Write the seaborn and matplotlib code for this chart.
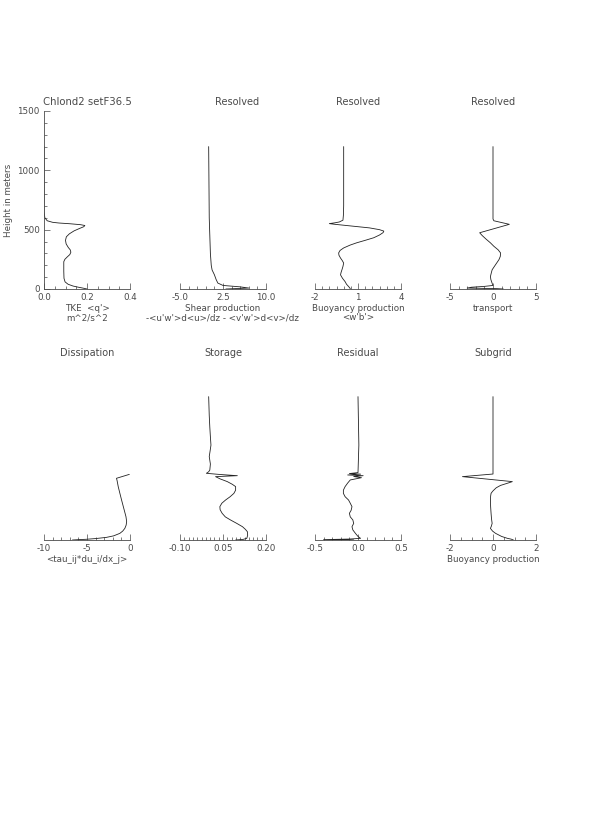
import numpy as np
import matplotlib
matplotlib.use('Agg')
import matplotlib.pyplot as plt
import seaborn as sns
from matplotlib.ticker import AutoMinorLocator

sns.set_style('white')
plt.rcParams['font.family'] = ['DejaVu Sans']

#%% profiles (height in m)
z_tke = [0, 8, 15, 25, 40, 60, 90, 150, 230, 250, 270, 290, 310, 330, 350, 380, 410,
         440, 465, 490, 510, 525, 535, 542, 550, 556, 562, 575, 600, 650, 1200]
tke = [0.20, 0.18, 0.16, 0.135, 0.112, 0.098, 0.093, 0.092, 0.092, 0.097, 0.108,
       0.12, 0.125, 0.122, 0.113, 0.103, 0.10, 0.104, 0.118, 0.14, 0.165, 0.185,
       0.19, 0.17, 0.12, 0.07, 0.04, 0.015, 0.004, 0.0, 0.0]

z_shear = [0, 8, 18, 30, 50, 80, 120, 160, 200, 300, 450, 600, 900, 1200]
shear = [3.0, 7.0, 5.5, 2.5, 1.6, 1.3, 1.0, 0.6, 0.45, 0.3, 0.2, 0.1, 0.05, 0.0]

z_buoy = [0, 10, 20, 40, 62, 90, 119, 140, 162, 190, 219, 240, 261, 285, 304, 325,
          346, 370, 389, 410, 432, 455, 475, 488, 500, 515, 530, 545, 551, 558, 565,
          580, 620, 700, 1200]
buoy = [0.47, 0.42, 0.35, 0.2, 0.1, -0.08, -0.22, -0.18, -0.12, -0.05, 0.0, -0.1,
        -0.22, -0.33, -0.35, -0.25, 0.0, 0.45, 0.9, 1.5, 2.1, 2.5, 2.75, 2.8, 2.5,
        1.8, 0.6, -0.6, -1.0, -0.6, -0.3, -0.05, -0.02, 0.0, 0.0]

z_trans = [0, 3, 8, 15, 22, 30, 48, 80, 105, 135, 162, 200, 247, 275, 304, 330, 360,
           389, 420, 450, 474, 510, 545, 560, 575, 590, 1200]
trans = [1.2, 0.5, -3.0, -2.5, -1.0, 0.0, -0.1, -0.25, -0.3, -0.2, -0.1, 0.25, 0.69,
         0.85, 0.88, 0.6, 0.1, -0.3, -0.8, -1.25, -1.55, 0.2, 1.9, 1.0, 0.1, 0.0, 0.0]

z_diss = [0, 3, 6, 12, 22, 35, 56, 75, 98, 125, 155, 197, 260, 337, 400, 450, 500,
          520, 553]
diss = [-6.7, -6.0, -5.1, -4.0, -2.75, -1.9, -1.18, -0.85, -0.6, -0.45, -0.39, -0.47,
        -0.7, -0.98, -1.2, -1.37, -1.5, -1.57, -0.08]

z_stor = [0, 5, 14, 40, 70, 90, 112, 140, 169, 195, 225, 255, 281, 310, 337, 365,
          393, 420, 450, 470, 492, 515, 534, 542, 552, 562, 575, 590, 640, 703, 750,
          800, 870, 950, 1050, 1208]
stor = [0.094, 0.12, 0.133, 0.136, 0.135, 0.128, 0.118, 0.098, 0.076, 0.058, 0.047,
        0.04, 0.039, 0.046, 0.059, 0.075, 0.088, 0.094, 0.094, 0.082, 0.065, 0.04,
        0.024, 0.10, 0.04, -0.008, 0.0, 0.004, 0.006, 0.002, 0.005, 0.008, 0.006,
        0.004, 0.002, 0.0]

z_resid = [0, 3, 8, 14, 30, 56, 85, 112, 140, 169, 195, 225, 250, 281, 310, 337,
           365, 393, 420, 450, 480, 506, 525, 535, 542, 548, 555, 560, 568, 800, 1208]
resid = [-0.05, -0.4, -0.1, 0.03, 0.0, -0.03, -0.06, -0.07, -0.05, -0.06, -0.09,
         -0.1, -0.08, -0.07, -0.09, -0.11, -0.15, -0.17, -0.17, -0.15, -0.12, -0.09,
         0.04, -0.05, 0.06, -0.12, 0.03, -0.1, 0.0, 0.01, 0.0]

z_sgs = [0, 7, 14, 30, 56, 75, 98, 115, 140, 180, 225, 280, 337, 370, 393, 410, 421,
         440, 460, 480, 492, 534, 556, 800, 1208]
sgs = [0.95, 0.85, 0.67, 0.4, 0.12, -0.02, -0.12, -0.08, -0.04, -0.07, -0.09, -0.11,
       -0.12, -0.11, -0.09, -0.02, 0.04, 0.15, 0.35, 0.7, 0.9, -1.42, 0.0, 0.0, 0.0]

titles = ['Chlond2 setF36.5', 'Resolved', 'Resolved', 'Resolved',
          'Dissipation', 'Storage', 'Residual', 'Subgrid']
xlabels = ["TKE  <q'>\nm^2/s^2",
           "Shear production\n-<u'w'>d<u>/dz - <v'w'>d<v>/dz",
           "Buoyancy production\n<w'b'>",
           'transport',
           '<tau_ij*du_i/dx_j>', '', '', 'Buoyancy production']
xticks = [[0.0, 0.2, 0.4], [-5.0, 2.5, 10.0], [-2, 1, 4], [-5, 0, 5],
          [-10, -5, 0], [-0.10, 0.05, 0.20], [-0.5, 0.0, 0.5], [-2, 0, 2]]
xticklabels = [['0.0', '0.2', '0.4'], ['-5.0', '2.5', '10.0'], ['-2', '1', '4'],
               ['-5', '0', '5'], ['-10', '-5', '0'], ['-0.10', '0.05', '0.20'],
               ['-0.5', '0.0', '0.5'], ['-2', '0', '2']]
minors = [4, 5, 6, 5, 5, 10, 5, 4]

profiles = [(tke, z_tke), (shear, z_shear), (buoy, z_buoy), (trans, z_trans),
            (diss, z_diss), (stor, z_stor), (resid, z_resid), (sgs, z_sgs)]

#%%
W, H = 595, 833
fig = plt.figure(figsize=(W / 100, H / 100), dpi=100)
lefts = [44, 180, 315, 450]
bottoms = [289, 540]
pw, ph = 86, 178
grey = '#4a4a4a'

for i, (vals, z) in enumerate(profiles):
    r, c = divmod(i, 4)
    ax = fig.add_axes([lefts[c] / W, (H - bottoms[r]) / H, pw / W, ph / H])
    sns.lineplot(x=vals, y=z, sort=False, estimator=None, ax=ax,
                 color='#222222', linewidth=0.6)
    ax.set_ylim(0, 1500)
    ax.set_xlim(xticks[i][0], xticks[i][-1])
    ax.set_xticks(xticks[i])
    ax.set_xticklabels(xticklabels[i])
    ax.xaxis.set_minor_locator(AutoMinorLocator(minors[i]))
    ax.tick_params(axis='x', which='major', direction='in', length=4, width=0.5,
                   pad=3, labelsize=6.3, colors=grey, bottom=True)
    ax.tick_params(axis='x', which='minor', direction='in', length=2, width=0.5,
                   colors=grey, bottom=True)
    for s in ['top', 'right']:
        ax.spines[s].set_visible(False)
    ax.spines['bottom'].set_color(grey)
    ax.spines['bottom'].set_linewidth(0.6)
    if i == 0:
        ax.spines['left'].set_color(grey)
        ax.spines['left'].set_linewidth(0.6)
        ax.set_yticks([0, 500, 1000, 1500])
        ax.set_yticklabels(['0', '500', '1000', '1500'])
        ax.yaxis.set_minor_locator(AutoMinorLocator(5))
        ax.tick_params(axis='y', which='major', direction='in', length=4, width=0.5,
                       pad=3, labelsize=6.3, colors=grey, left=True)
        ax.tick_params(axis='y', which='minor', direction='in', length=2, width=0.5,
                       colors=grey, left=True)
        ax.set_ylabel('Height in meters', fontsize=6.3, color=grey, labelpad=3)
    else:
        ax.spines['left'].set_visible(False)
        ax.set_yticks([])
        ax.set_ylabel('')
    ax.set_xlabel(xlabels[i], fontsize=6.3, color=grey, labelpad=1, linespacing=1.1)
    tx = 0.66 if i == 1 else 0.5
    ax.set_title(titles[i], fontsize=7.3 if i == 0 else 7, color=grey, pad=4, x=tx)

fig.savefig('out.png', dpi=100)
